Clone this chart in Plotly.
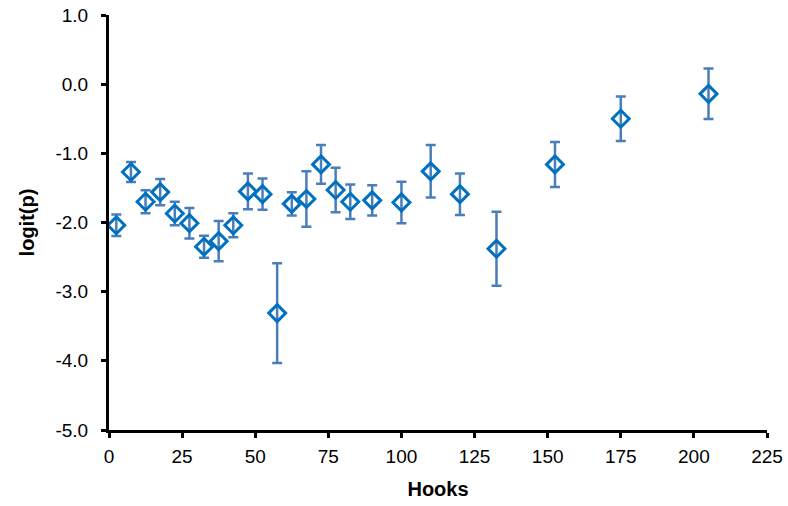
import plotly.graph_objects as go

hooks = [2.5, 7.5, 12.5, 17.5, 22.5, 27.5, 32.5, 37.5, 42.5, 47.5, 52.5, 57.5,
         62.5, 67.5, 72.5, 77.5, 82.5, 90, 100, 110, 120, 132.5, 152.5, 175, 205]
logit_p = [-2.04, -1.27, -1.70, -1.56, -1.87, -2.01, -2.35, -2.27, -2.04, -1.55,
           -1.59, -3.31, -1.73, -1.66, -1.16, -1.53, -1.70, -1.68, -1.71, -1.26,
           -1.59, -2.38, -1.16, -0.50, -0.14]
err = [0.155, 0.145, 0.167, 0.19, 0.17, 0.22, 0.16, 0.29, 0.175, 0.26, 0.225, 0.72,
       0.167, 0.40, 0.28, 0.32, 0.25, 0.22, 0.30, 0.38, 0.30, 0.535, 0.325, 0.32, 0.365]

x_ticks = [0, 25, 50, 75, 100, 125, 150, 175, 200, 225]
y_ticks = [1.0, 0.0, -1.0, -2.0, -3.0, -4.0, -5.0]
y_tick_labels = ["1.0", "0.0", "-1.0", "-2.0", "-3.0", "-4.0", "-5.0"]

fig = go.Figure()
fig.add_trace(go.Scatter(
    x=hooks, y=logit_p, mode="markers",
    marker=dict(symbol="diamond-open", size=13, color="#0070C0", line=dict(width=3, color="#0070C0")),
    error_y=dict(type="data", array=err, visible=True, color="#4A7EBB", thickness=2.5, width=5),
    showlegend=False,
))

font = "Liberation Sans, Arial, sans-serif"
fig.update_layout(
    width=788, height=506,
    margin=dict(l=109, r=21, t=15, b=76, autoexpand=False),
    paper_bgcolor="white", plot_bgcolor="white",
    font=dict(family=font, size=19, color="black"),
    xaxis=dict(range=[0, 225], tickvals=x_ticks, ticktext=[str(v) for v in x_ticks],
               showline=True, linewidth=3, linecolor="black", ticks="outside",
               ticklen=5, tickwidth=3, tickcolor="black", showgrid=False, zeroline=False,
               ticklabelstandoff=2, automargin=False,
               title=dict(text="<b>Hooks</b>", font=dict(size=20), standoff=17)),
    yaxis=dict(range=[-5, 1], tickvals=y_ticks, ticktext=y_tick_labels,
               showline=True, linewidth=3, linecolor="black", ticks="outside",
               ticklen=5, tickwidth=3, tickcolor="black", showgrid=False, zeroline=False,
               ticklabelstandoff=9, automargin=False,
               title=dict(text="<b>logit(p)</b>", font=dict(size=20), standoff=16)),
)

fig.write_html("out.html")
